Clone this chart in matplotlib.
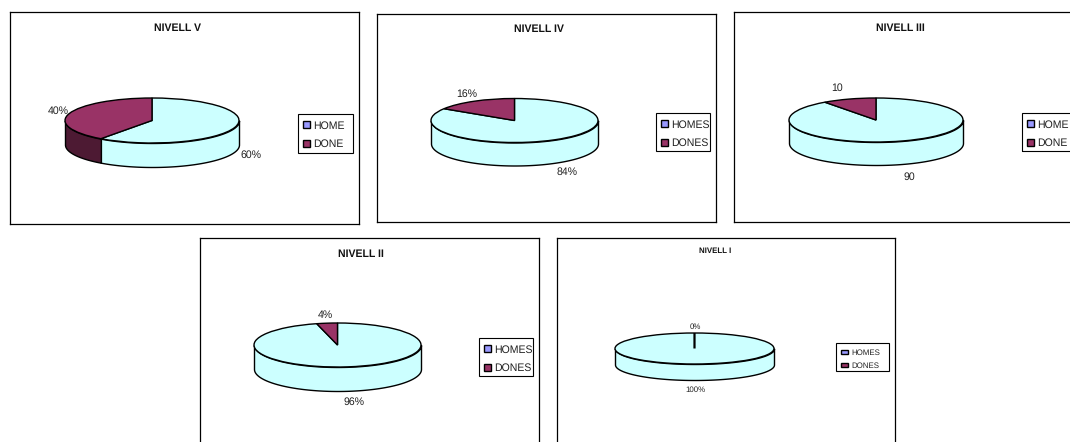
"""Five fake-3D pie charts, one for each level"""
import numpy as np
import matplotlib
matplotlib.use("Agg")
import matplotlib.pyplot as plt
from matplotlib.patches import Patch, Rectangle

plt.rcParams['font.family'] = ['Liberation Sans', 'DejaVu Sans']
plt.rcParams['text.hinting'] = 'no_hinting'

# data
titles = ['NIVELL V', 'NIVELL IV', 'NIVELL III', 'NIVELL II', 'NIVELL I']
home_values = [60, 84, 90, 96, 100]
done_values = [40, 16, 10, 4, 0]
home_texts = ['60%', '84%', '90', '96%', '100%']
done_texts = ['40%', '16%', '10', '4%', '0%']
legend_home = ['HOME', 'HOMES', 'HOME', 'HOMES', 'HOMES']
legend_done = ['DONE', 'DONES', 'DONE', 'DONES', 'DONES']

# layout, all in pixels of the 1070x442 picture
W, H = 1070, 442
frames = [(10, 12, 349, 212), (377, 14, 339, 208), (734, 12, 340, 210),
          (200, 238, 339, 212), (557, 238, 338, 212)]
# centre x, centre y, radius x, radius y, depth
ellipses = [(152, 120.5, 87, 22.5, 24), (514.5, 120.5, 83.5, 22, 23), (876, 120, 87, 22, 23),
            (337.5, 345, 83.5, 22, 24), (694.5, 348.5, 79.5, 15.5, 16)]
legend_boxes = [(298, 114, 55, 39), (656, 113, 54, 38), (1022, 113, 54, 38),
                (479, 338, 54, 38), (836, 343, 53, 28)]
title_pos = [(178, 28), (539, 29), (900, 28), (361, 254), (715, 251)]
home_pos = [(251, 155), (567, 172), (909, 177), (354, 402), (695, 390)]
done_pos = [(58, 111), (467, 94), (837, 88), (325, 315), (695, 327)]
font_sizes = [7.6, 7.6, 7.6, 7.6, 5.7]
row_gaps = [0.82, 0.82, 0.82, 0.82, 0.72]
swatch_h = [7, 7, 7, 7, 4]
legend_top = [6.5, 6.5, 6.5, 6.5, 6]

CYAN = '#CCFFFF'
MAROON = '#993366'
MAROON_DARK = '#4D1A33'
LEGEND_BLUE = '#9999FF'


def draw_wall(ax, start, end, depth, color):
    # side of the cake, only the part of a slice facing the viewer
    lo, hi = max(start, 180), min(end, 360)
    if hi <= lo:
        return
    t = np.radians(np.linspace(lo, hi, 100))
    ax.fill_between(np.cos(t), np.sin(t), np.sin(t) - depth, facecolor=color,
                    edgecolor='black', linewidth=1.0, zorder=1)


fig = plt.figure(figsize=(W / 100, H / 100), dpi=100, facecolor='white')

for i in range(5):
    fx, fy, fw, fh = frames[i]
    cx, cy, rx, ry, depth = ellipses[i]
    fs = font_sizes[i]

    ax = fig.add_axes([fx / W, 1 - (fy + fh) / H, fw / W, fh / H])
    wedges, _ = ax.pie([home_values[i], done_values[i]], colors=[CYAN, MAROON], startangle=90,
                       counterclock=False, radius=1,
                       wedgeprops={'edgecolor': 'black', 'linewidth': 1.0})
    for w in wedges:
        w.set_zorder(3)
    wedges[1].set_linewidth(1.6 if done_values[i] == 0 else 1.0)

    # pie forces equal aspect and hides the frame, undo that
    ax.set_aspect('auto')
    ax.set_frame_on(True)
    ax.set_xlim((fx - cx) / rx, (fx + fw - cx) / rx)
    ax.set_ylim((cy - fy - fh) / ry, (cy - fy) / ry)
    for spine in ax.spines.values():
        spine.set_linewidth(0.9)

    # slices run clockwise from 12 o'clock
    boundary = 450 - 360 * home_values[i] / (home_values[i] + done_values[i])
    d = depth / ry
    draw_wall(ax, boundary, 450, d, CYAN)
    draw_wall(ax, 90, boundary, d, MAROON_DARK)

    fig.text(title_pos[i][0] / W, 1 - title_pos[i][1] / H, titles[i], fontsize=fs, fontweight='bold',
             ha='center', va='center', color='#111111')
    fig.text(home_pos[i][0] / W, 1 - home_pos[i][1] / H, home_texts[i], fontsize=fs,
             ha='center', va='center', color='#222222')
    fig.text(done_pos[i][0] / W, 1 - done_pos[i][1] / H, done_texts[i], fontsize=fs,
             ha='center', va='center', color='#222222')

    lx, ly, lw, lh = legend_boxes[i]
    handles = [Patch(facecolor=LEGEND_BLUE, edgecolor='black', linewidth=1.0),
               Patch(facecolor=MAROON, edgecolor='black', linewidth=1.0)]
    em = fs * 100 / 72
    ax.legend(handles, [legend_home[i], legend_done[i]], loc='upper left',
              bbox_to_anchor=((lx + 5) / W, 1 - (ly + legend_top[i]) / H), bbox_transform=fig.transFigure,
              frameon=False, fontsize=fs, borderpad=0, borderaxespad=0,
              handlelength=7 / em, handleheight=swatch_h[i] / em, handletextpad=3 / em,
              labelspacing=row_gaps[i], labelcolor='#222222')
    fig.add_artist(Rectangle((lx / W, 1 - (ly + lh) / H), lw / W, lh / H, transform=fig.transFigure,
                             facecolor='none', edgecolor='black', linewidth=0.8))

fig.savefig('out.png', dpi=100)
